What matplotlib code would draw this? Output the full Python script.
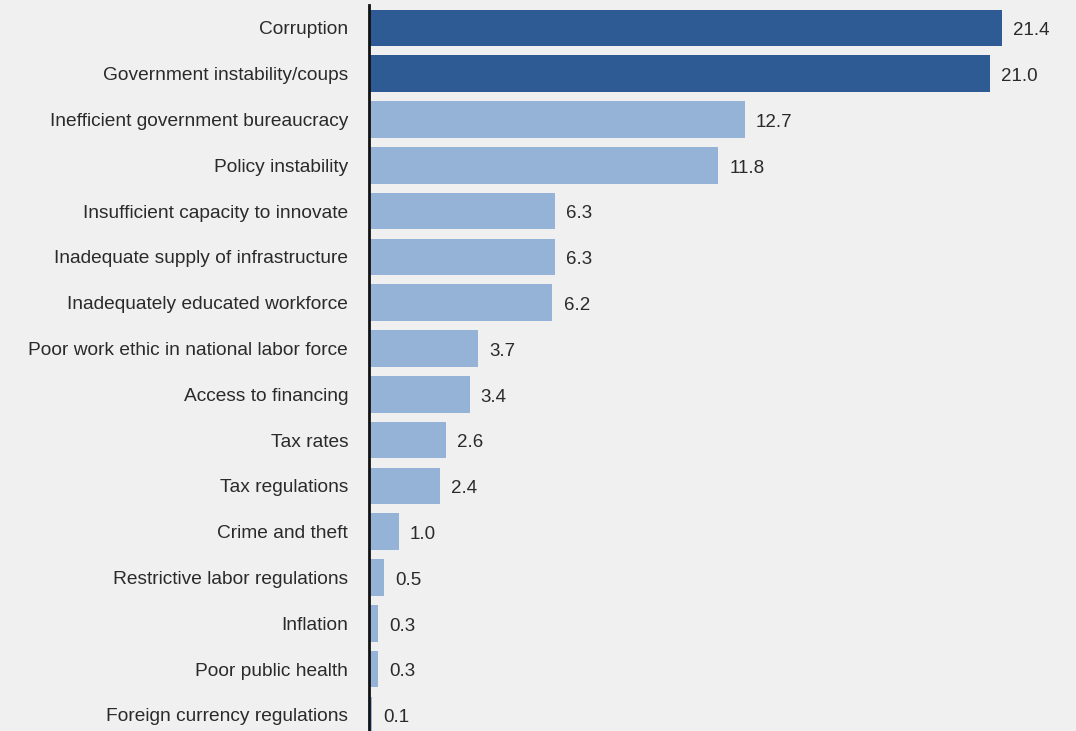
import matplotlib
matplotlib.use("Agg")
import matplotlib.pyplot as plt

categories = ["Corruption", "Government instability/coups",
              "Inefficient government bureaucracy", "Policy instability",
              "Insufficient capacity to innovate",
              "Inadequate supply of infrastructure",
              "Inadequately educated workforce",
              "Poor work ethic in national labor force",
              "Access to financing", "Tax rates", "Tax regulations",
              "Crime and theft", "Restrictive labor regulations", "Inflation",
              "Poor public health", "Foreign currency regulations"]
values = [21.4, 21.0, 12.7, 11.8, 6.3, 6.3, 6.2, 3.7, 3.4, 2.6, 2.4,
          1.0, 0.5, 0.3, 0.3, 0.1]
n_dark = 2

plt.rcParams['font.family'] = ['Liberation Sans', 'DejaVu Sans']

bg = "#f0f0f0"
fig = plt.figure(figsize=(10.76, 7.31), dpi=100, facecolor=bg)
ax = fig.add_axes([369/1076, 0, 1 - 369/1076, 726/731])
ax.set_facecolor(bg)

ypos = list(range(len(values)))
colors = ["#2f5b94" if i < n_dark else "#95b3d7" for i in ypos]
ax.barh(ypos, values, height=0.8, color=colors)

for y, v in zip(ypos, values):
    ax.annotate(f"{v:.1f}", (v, y), xytext=(8, -2), textcoords="offset points",
                va="center", ha="left", fontsize=13.5, color="#2a2a2a")

ax.set_yticks(ypos)
ax.set_yticklabels(categories, fontsize=13.8, color="#2a2a2a")
ax.tick_params(axis="y", length=0, pad=15)
ax.set_xticks([])
ax.set_xlim(0, 707/29.58)
ax.set_ylim(15.35, -0.5)
for s in ["top", "right", "bottom"]:
    ax.spines[s].set_visible(False)
ax.spines["left"].set_linewidth(2)
ax.spines["left"].set_color("#111111")

fig.savefig("out.png", dpi=100, facecolor=bg)
